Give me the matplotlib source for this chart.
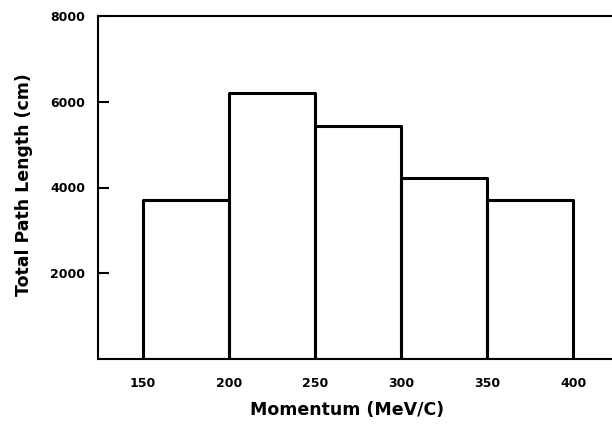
import matplotlib
matplotlib.use("Agg")
import matplotlib.pyplot as plt

bin_edges = [150, 200, 250, 300, 350]
bin_width = 50
path_length = [3700, 6200, 5440, 4230, 3720]
x_ticks = [150, 200, 250, 300, 350, 400]
y_ticks = [2000, 4000, 6000, 8000]

W, H = 612, 426
fig = plt.figure(figsize=(W/100, H/100), dpi=100)
ax = fig.add_axes([98/W, (H-359)/H, (W-98)/W, (359-16)/H])

ax.bar(bin_edges, path_length, width=bin_width, align='edge', fill=False,
       edgecolor='black', linewidth=2.2, joinstyle='round')

ax.set_xlim(124, 422.5)
ax.set_ylim(0, 8000)
ax.spines['right'].set_visible(False)
for s in ['left', 'top', 'bottom']:
    ax.spines[s].set_linewidth(1.5)

ax.set_xticks(x_ticks)
ax.set_xticklabels([str(v) for v in x_ticks])
ax.set_yticks(y_ticks)
ax.set_yticklabels([str(v) for v in y_ticks])
ax.tick_params(axis='x', length=0, pad=13, labelsize=9)
ax.tick_params(axis='y', direction='in', length=8, width=1.5, pad=9, labelsize=9)
for lab in ax.get_xticklabels() + ax.get_yticklabels():
    lab.set_fontweight('semibold')

ax.set_xlabel('Momentum (MeV/C)', fontsize=12.5, fontweight='bold')
ax.xaxis.set_label_coords((347-98)/(W-98), -(401-359)/(359-16))
ax.set_ylabel('Total Path Length (cm)', fontsize=12.5, fontweight='bold')
ax.yaxis.set_label_coords(-(98-33)/(W-98), (359-185)/(359-16))

fig.savefig('out.png', dpi=100)
